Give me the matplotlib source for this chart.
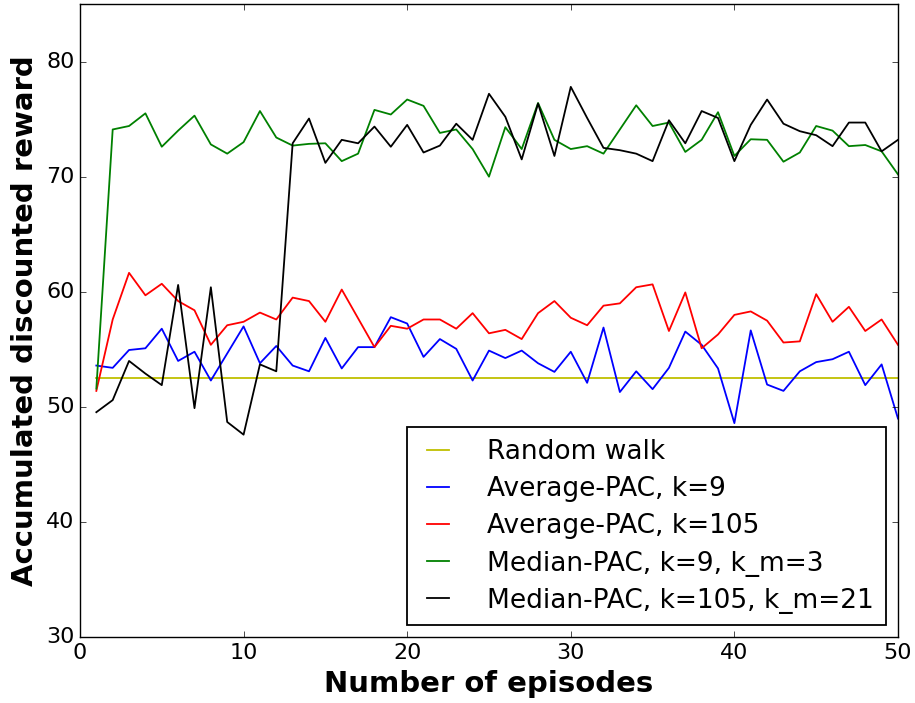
import numpy as np
import matplotlib
matplotlib.use('Agg')
import matplotlib.pyplot as plt

plt.style.use('classic')

episodes = np.arange(1, 51)

random_walk = [52.5] * 50

avg_k9 = [53.6, 53.4, 54.95, 55.1, 56.8, 54.0, 54.8, 52.3, 54.65, 57.0,
          53.8, 55.3, 53.6, 53.1, 56.0, 53.35, 55.2, 55.2, 57.8, 57.25,
          54.35, 55.9, 55.05, 52.3, 54.9, 54.25, 54.9, 53.8, 53.05, 54.8,
          52.1, 56.9, 51.3, 53.1, 51.55, 53.4, 56.55, 55.4, 53.35, 48.6,
          56.65, 51.95, 51.4, 53.1, 53.9, 54.15, 54.8, 51.9, 53.7, 49.0]

avg_k105 = [51.4, 57.6, 61.65, 59.7, 60.7, 59.2, 58.4, 55.4, 57.1, 57.4,
            58.2, 57.6, 59.5, 59.2, 57.4, 60.2, 57.7, 55.2, 57.05, 56.8,
            57.6, 57.6, 56.8, 58.15, 56.4, 56.7, 55.9, 58.15, 59.2, 57.75,
            57.1, 58.8, 59.0, 60.4, 60.65, 56.6, 59.95, 55.1, 56.3, 58.0,
            58.3, 57.5, 55.6, 55.7, 59.8, 57.4, 58.7, 56.6, 57.6, 55.4]

med_k9 = [51.6, 74.1, 74.4, 75.5, 72.6, 74.0, 75.3, 72.8, 72.0, 73.0,
          75.7, 73.4, 72.7, 72.85, 72.9, 71.35, 72.0, 75.8, 75.4, 76.7,
          76.15, 73.8, 74.1, 72.4, 70.0, 74.3, 72.4, 76.4, 73.2, 72.4,
          72.65, 72.0, 74.1, 76.2, 74.4, 74.7, 72.15, 73.2, 75.6, 71.8,
          73.25, 73.2, 71.3, 72.1, 74.4, 74.0, 72.65, 72.75, 72.2, 70.2]

med_k105 = [49.55, 50.6, 54.0, 52.9, 51.9, 60.6, 49.9, 60.4, 48.7, 47.6,
            53.7, 53.1, 72.9, 75.05, 71.2, 73.2, 72.9, 74.35, 72.6, 74.5,
            72.1, 72.7, 74.6, 73.2, 77.2, 75.2, 71.5, 76.35, 71.8, 77.8,
            75.1, 72.5, 72.3, 72.0, 71.35, 74.9, 72.9, 75.7, 75.1, 71.35,
            74.5, 76.7, 74.6, 73.95, 73.6, 72.65, 74.7, 74.7, 72.2, 73.2]

fig = plt.figure(figsize=(9.15, 7.03), dpi=100, facecolor='white')
ax = fig.add_axes([0.0874, 0.0934, 0.894, 0.901])
ax.set_facecolor('white')

ax.plot(episodes, random_walk, color='y', lw=1.3, label='Random walk')
ax.plot(episodes, avg_k9, color='b', lw=1.3, label='Average-PAC, k=9')
ax.plot(episodes, avg_k105, color='r', lw=1.3, label='Average-PAC, k=105')
ax.plot(episodes, med_k9, color='g', lw=1.3, label='Median-PAC, k=9, k_m=3')
ax.plot(episodes, med_k105, color='k', lw=1.3, label='Median-PAC, k=105, k_m=21')

ax.set_xlim(0, 50)
ax.set_ylim(30, 85)
ax.set_yticks([30, 40, 50, 60, 70, 80])
ax.tick_params(labelsize=16)
ax.set_xlabel('Number of episodes', fontsize=21, fontweight='bold')
ax.set_ylabel('Accumulated discounted reward', fontsize=21, fontweight='bold')

leg = ax.legend(loc='lower right', fontsize=19, handlelength=1.45,
                borderaxespad=0.45, labelspacing=0.42, handletextpad=1.15,
                borderpad=0.45)
leg.get_frame().set_linewidth(1.3)

fig.savefig('out.png', dpi=100, facecolor='white')
